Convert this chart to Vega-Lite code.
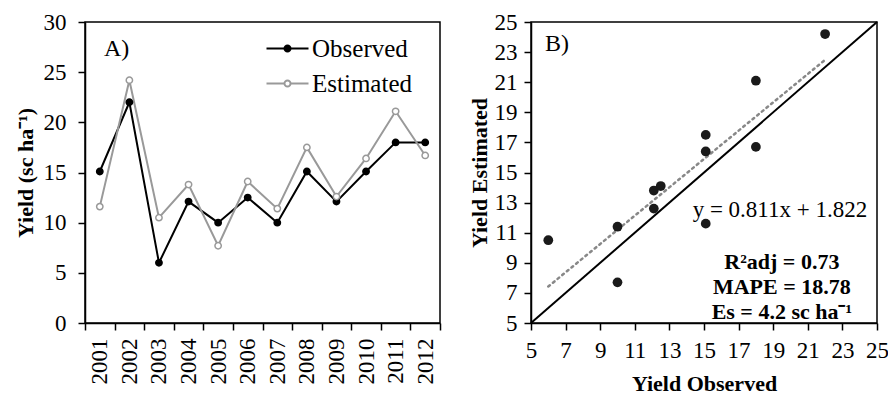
{
  "$schema": "https://vega.github.io/schema/vega-lite/v6.json",
  "background": "white",
  "padding": {"left": 13, "top": 10, "right": 0, "bottom": 0},
  "spacing": 25,
  "config": {
    "font": "Liberation Serif",
    "view": {"stroke": "black", "strokeWidth": 1.5},
    "axis": {
      "domainColor": "black", "domainWidth": 1.5,
      "tickColor": "black", "tickWidth": 1.5, "tickSize": 7,
      "labelFont": "Liberation Serif", "labelFontSize": 23, "labelColor": "black",
      "labelOverlap": false, "labelFlush": false, "labelBound": false,
      "titleFont": "Liberation Serif", "titleFontSize": 22, "titleFontWeight": "bold", "titleColor": "black",
      "grid": false
    },
    "title": {"font": "Liberation Serif", "fontSize": 24, "fontWeight": "normal", "color": "black", "anchor": "start", "frame": "group"}
  },
  "datasets": {
    "yield": [
      {"year": "2001", "Observed": 15.1, "Estimated": 11.6},
      {"year": "2002", "Observed": 22.0, "Estimated": 24.2},
      {"year": "2003", "Observed": 6.0, "Estimated": 10.5},
      {"year": "2004", "Observed": 12.1, "Estimated": 13.8},
      {"year": "2005", "Observed": 10.0, "Estimated": 7.7},
      {"year": "2006", "Observed": 12.5, "Estimated": 14.1},
      {"year": "2007", "Observed": 10.0, "Estimated": 11.4},
      {"year": "2008", "Observed": 15.1, "Estimated": 17.5},
      {"year": "2009", "Observed": 12.1, "Estimated": 12.6},
      {"year": "2010", "Observed": 15.1, "Estimated": 16.4},
      {"year": "2011", "Observed": 18.0, "Estimated": 21.1},
      {"year": "2012", "Observed": 18.0, "Estimated": 16.7}
    ]
  },
  "hconcat": [
    {
      "width": 355,
      "height": 301,
      "title": {"text": "A)", "offset": -50, "dx": 19},
      "data": {"name": "yield"},
      "transform": [{"fold": ["Observed", "Estimated"], "as": ["series", "value"]}],
      "encoding": {
        "x": {
          "field": "year", "type": "ordinal",
          "scale": {"type": "band", "paddingInner": 0, "paddingOuter": 0},
          "axis": {"title": null, "labelAngle": -90, "tickBand": "extent", "labelPadding": 8}
        },
        "y": {
          "field": "value", "type": "quantitative",
          "scale": {"domain": [0, 30], "nice": false},
          "axis": {"title": "Yield (sc ha⁻¹)", "values": [0, 5, 10, 15, 20, 25, 30], "labelPadding": 12, "titlePadding": 6}
        }
      },
      "layer": [
        {
          "mark": {"type": "line", "strokeWidth": 2},
          "encoding": {
            "color": {
              "field": "series", "type": "nominal",
              "scale": {"domain": ["Observed", "Estimated"], "range": ["black", "#999999"]},
              "legend": {
                "orient": "none", "legendX": 190, "legendY": 14, "title": null,
                "labelFontSize": 25, "labelFont": "Liberation Serif", "labelColor": "black",
                "symbolType": "M-2,0L-0.29,0M2,0L0.29,0A0.29,0.29 0 1,1 -0.29,0A0.29,0.29 0 1,1 0.29,0",
                "symbolSize": 441, "symbolStrokeWidth": 2, "labelOffset": 12, "rowPadding": 9, "padding": 0,
                "encode": {
                  "symbols": {
                    "update": {
                      "fill": {"signal": "datum.value === 'Observed' ? 'black' : 'white'"},
                      "stroke": {"signal": "datum.value === 'Observed' ? 'black' : '#999999'"},
                      "opacity": {"value": 1}
                    }
                  }
                }
              }
            }
          }
        },
        {
          "mark": {"type": "point", "filled": true, "size": 40, "strokeWidth": 1.5, "opacity": 1},
          "encoding": {
            "fill": {"field": "series", "type": "nominal", "scale": {"domain": ["Observed", "Estimated"], "range": ["black", "white"]}, "legend": null},
            "stroke": {"field": "series", "type": "nominal", "scale": {"domain": ["Observed", "Estimated"], "range": ["black", "#999999"]}, "legend": null}
          }
        }
      ]
    },
    {
      "width": 346,
      "height": 301,
      "title": {"text": "B)", "offset": -45, "dx": 14},
      "layer": [
        {
          "data": {"values": [{"v": 5}, {"v": 25}]},
          "mark": {"type": "line", "color": "black", "strokeWidth": 2},
          "encoding": {
            "x": {"field": "v", "type": "quantitative", "title": "Yield Observed",
              "scale": {"domain": [5, 25], "nice": false},
              "axis": {"values": [5, 7, 9, 11, 13, 15, 17, 19, 21, 23, 25], "labelPadding": 9, "titlePadding": 11, "labelOverlap": false, "labelFlush": false}},
            "y": {"field": "v", "type": "quantitative", "title": "Yield Estimated",
              "scale": {"domain": [5, 25], "nice": false},
              "axis": {"values": [5, 7, 9, 11, 13, 15, 17, 19, 21, 23, 25], "labelPadding": 7, "titlePadding": 3, "labelOverlap": false, "labelFlush": false}}
          }
        },
        {
          "data": {"name": "yield"},
          "transform": [{"regression": "Estimated", "on": "Observed"}],
          "mark": {"type": "line", "color": "#888888", "strokeWidth": 2.5, "strokeDash": [2, 4], "strokeCap": "round"},
          "encoding": {
            "x": {"field": "Observed", "type": "quantitative", "title": "Yield Observed",
              "axis": {"values": [5, 7, 9, 11, 13, 15, 17, 19, 21, 23, 25], "labelPadding": 9, "titlePadding": 11, "labelOverlap": false, "labelFlush": false}},
            "y": {"field": "Estimated", "type": "quantitative", "title": "Yield Estimated",
              "axis": {"values": [5, 7, 9, 11, 13, 15, 17, 19, 21, 23, 25], "labelPadding": 7, "titlePadding": 3, "labelOverlap": false, "labelFlush": false}}
          }
        },
        {
          "data": {"name": "yield"},
          "mark": {"type": "circle", "size": 95, "color": "#1a1a1a", "opacity": 1},
          "encoding": {
            "x": {"field": "Observed", "type": "quantitative", "title": "Yield Observed",
              "axis": {"values": [5, 7, 9, 11, 13, 15, 17, 19, 21, 23, 25], "labelPadding": 9, "titlePadding": 11, "labelOverlap": false, "labelFlush": false}},
            "y": {"field": "Estimated", "type": "quantitative", "title": "Yield Estimated",
              "axis": {"values": [5, 7, 9, 11, 13, 15, 17, 19, 21, 23, 25], "labelPadding": 7, "titlePadding": 3, "labelOverlap": false, "labelFlush": false}}
          }
        },
        {
          "data": {"values": [{"px": 19.39, "py": 12.48, "label": "y = 0.811x + 1.822"}]},
          "mark": {"type": "text", "fontSize": 23, "color": "black", "align": "center", "baseline": "middle"},
          "encoding": {
            "x": {"field": "px", "type": "quantitative", "title": "Yield Observed",
              "axis": {"values": [5, 7, 9, 11, 13, 15, 17, 19, 21, 23, 25], "labelPadding": 9, "titlePadding": 11, "labelOverlap": false, "labelFlush": false}},
            "y": {"field": "py", "type": "quantitative", "title": "Yield Estimated",
              "axis": {"values": [5, 7, 9, 11, 13, 15, 17, 19, 21, 23, 25], "labelPadding": 7, "titlePadding": 3, "labelOverlap": false, "labelFlush": false}},
            "text": {"field": "label"}
          }
        },
        {
          "data": {"values": [{"px": 19.5, "py": 9.07, "label": ["R²adj = 0.73", "MAPE = 18.78", "Es = 4.2 sc ha⁻¹"]}]},
          "mark": {"type": "text", "fontSize": 22, "fontWeight": "bold", "lineHeight": 25, "color": "black", "align": "center", "baseline": "middle"},
          "encoding": {
            "x": {"field": "px", "type": "quantitative", "title": "Yield Observed",
              "axis": {"values": [5, 7, 9, 11, 13, 15, 17, 19, 21, 23, 25], "labelPadding": 9, "titlePadding": 11, "labelOverlap": false, "labelFlush": false}},
            "y": {"field": "py", "type": "quantitative", "title": "Yield Estimated",
              "axis": {"values": [5, 7, 9, 11, 13, 15, 17, 19, 21, 23, 25], "labelPadding": 7, "titlePadding": 3, "labelOverlap": false, "labelFlush": false}},
            "text": {"field": "label"}
          }
        }
      ]
    }
  ]
}
